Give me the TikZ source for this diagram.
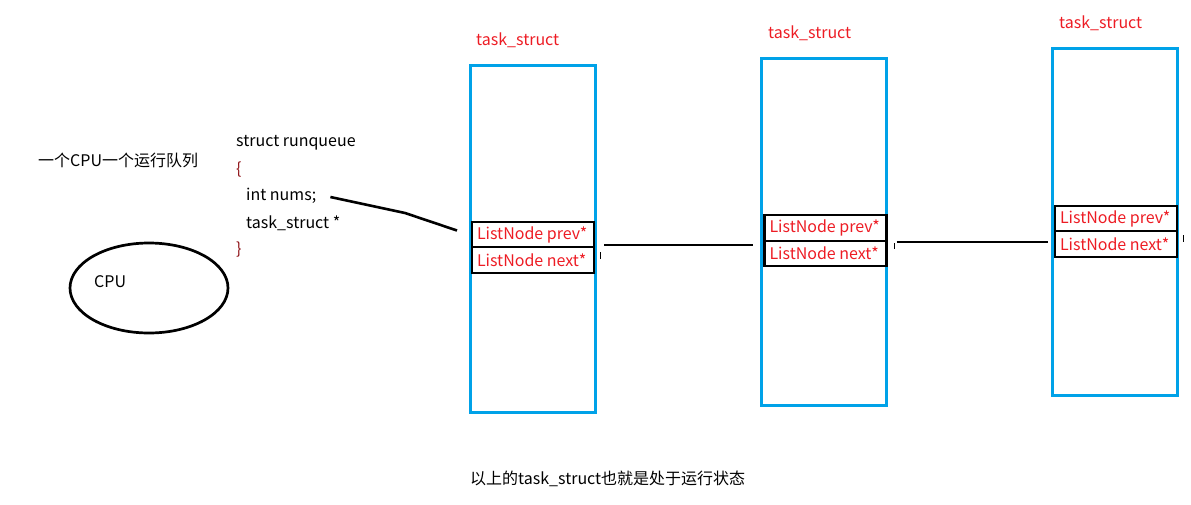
\documentclass[tikz,border=0pt]{standalone}
\usepackage{fontspec}
\setmainfont{Noto Sans CJK SC}
\usetikzlibrary{positioning,calc}
\definecolor{taskblue}{RGB}{0,162,232}
\definecolor{fieldred}{RGB}{237,28,36}
\newcommand{\fieldtext}[1]{\makebox[112pt][l]{#1}}

\tikzset{
  taskbox/.style={draw=taskblue,line width=3pt,minimum width=125pt,minimum height=347pt,inner sep=0pt},
  field/.style={draw,line width=2.6pt,minimum width=122pt,inner sep=0pt,outer sep=0pt,text=fieldred,font=\fontsize{16}{18}\selectfont},
  tasklabel/.style={text=fieldred,font=\fontsize{16}{18}\selectfont,inner sep=0pt},
  code/.style={anchor=west,inner sep=0pt,font=\fontsize{16}{18}\selectfont},
  tick/.style={line width=1pt}
}

\begin{document}
\begin{tikzpicture}[x=1pt,y=-1pt]
\useasboundingbox (0,0) rectangle (1191,504);

% cpu and its run queue
\node(title)[code] at (38,160){一个CPU一个运行队列};
\draw[line width=2.7pt] (149,288) ellipse [x radius=79pt,y radius=45pt];
\node(cpu)[code] at (94,282){CPU};

\node(rq)[code] at (236,143){struct runqueue};
\node(lb)[code,text=fieldred!60!black] at (236,170){\{};
\node(nums)[code] at (246,196){int nums;};
\node(tp)[code] at (246,223){task\_struct *};
\node(rb)[code,text=fieldred!60!black] at (236,250){\}};

% the three task_structs
\node(task1)[taskbox] at (532.5,238.5){};
\node(task2)[taskbox] at (824,231.5){};
\node(task3)[taskbox] at (1115,221.5){};
\node(lab1)[tasklabel,anchor=west] at (476,40){task\_struct};
\node(lab2)[tasklabel,anchor=west] at (768,33){task\_struct};
\node(lab3)[tasklabel,anchor=west] at (1059,23){task\_struct};

\node(prev1)[field,minimum height=25pt] at (533,234.5){\fieldtext{ListNode prev*}};
\node(next1)[field,minimum height=26pt,below=0pt of prev1]{\fieldtext{ListNode next*}};
\node(prev2)[field,minimum height=26pt] at (825.5,228){\fieldtext{ListNode prev*}};
\node(next2)[field,minimum height=25pt,below=0pt of prev2]{\fieldtext{ListNode next*}};
\node(prev3)[field,minimum height=25pt] at (1116,218.5){\fieldtext{ListNode prev*}};
\node(next3)[field,minimum height=26pt,below=0pt of prev3]{\fieldtext{ListNode next*}};

% links
\draw[line width=2.6pt] ([xshift=14pt,yshift=-1pt]nums.east) -- (405,213) -- ([xshift=-15pt,yshift=4pt]prev1.west);
\draw[line width=2.8pt] ([xshift=10pt,yshift=2pt]next1.north east) -- ([xshift=-12pt,yshift=-4pt]next2.north west);
\draw[line width=2.8pt] ([xshift=10pt,yshift=-1pt]next2.north east) -- ([xshift=-7pt,yshift=-11pt]next3.north west);

% small stray marks
\draw[tick] ([xshift=6pt,yshift=-5pt]next1.north east) -- ++(0,7);
\draw[tick] ([xshift=8pt,yshift=-2pt]next2.north east) -- ++(0,6);
\draw[tick] ([xshift=6pt,yshift=-4pt]next3.north east) -- ++(0,7);

\node(note)[code] at (470,479){以上的task\_struct也就是处于运行状态};
\end{tikzpicture}
\end{document}
